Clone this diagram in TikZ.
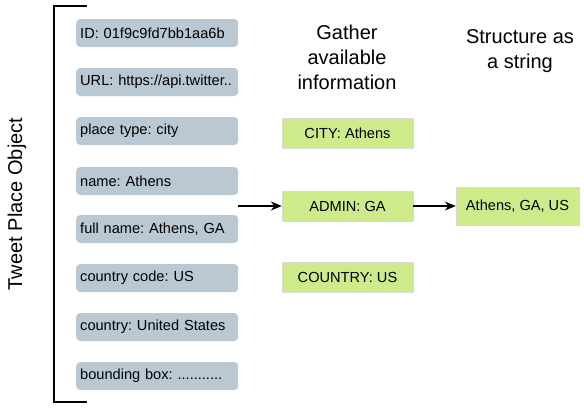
\documentclass[tikz,border=0pt]{standalone}
\usepackage{fontspec}
\setmainfont{Liberation Sans}
\usetikzlibrary{arrows.meta}
\definecolor{fieldgray}{HTML}{BAC8D3}
\definecolor{infogreen}{HTML}{CDEB8B}
\frenchspacing
\begin{document}
\begin{tikzpicture}[x=1pt,y=-1pt,
  field/.style={fill=fieldgray,rounded corners=4pt,anchor=west,
    text width=154pt,inner xsep=4pt,minimum height=28pt,align=left,
    font=\fontsize{14.6}{16}\selectfont},
  info/.style={fill=infogreen,draw=black!15,thin,minimum width=131pt,
    minimum height=30pt,font=\fontsize{14.6}{16}\selectfont},
  title/.style={align=center,font=\fontsize{20}{25}\selectfont},
  link/.style={-{Stealth[length=11pt,width=9pt]},line width=1.5pt}]
\useasboundingbox (0,0) rectangle (584,408);
\draw[line width=2pt] (87,6) -- (54,6) -- (54,402) -- (87,402);
\node[rotate=90,font=\fontsize{20}{24}\selectfont] (object) at (17,204) {Tweet Place Object};
\node[field] (id)      at (76,33)  {ID: 01f9c9fd7bb1aa6b};
\node[field] (url)     at (76,82)  {URL: https://api.twitter..};
\node[field] (type)    at (76,131) {place type: city};
\node[field] (name)    at (76,181) {name: Athens};
\node[field] (full)    at (76,229) {full name: Athens, GA};
\node[field] (code)    at (76,278) {country code: US};
\node[field] (country) at (76,327) {country: United States};
\node[field] (bbox)    at (76,376) {bounding box: ...........};
\coordinate (fields) at (238,206);
\node[title] (gather) at (347,57) {Gather\\available\\information};
\node[title] (structure) at (520,51) {Structure as\\a string};
\node[info] (city)  at (347.5,133.5) {CITY: Athens};
\node[info] (admin) at (347.5,206)   {ADMIN: GA};
\node[info] (ctry)  at (347.5,277)   {COUNTRY: US};
\node[info,minimum width=123pt,minimum height=38pt] (result) at (517.5,206) {Athens, GA, US};
\draw[link] (fields) -- (admin);
\draw[link] (admin) -- (result);
\end{tikzpicture}
\end{document}
